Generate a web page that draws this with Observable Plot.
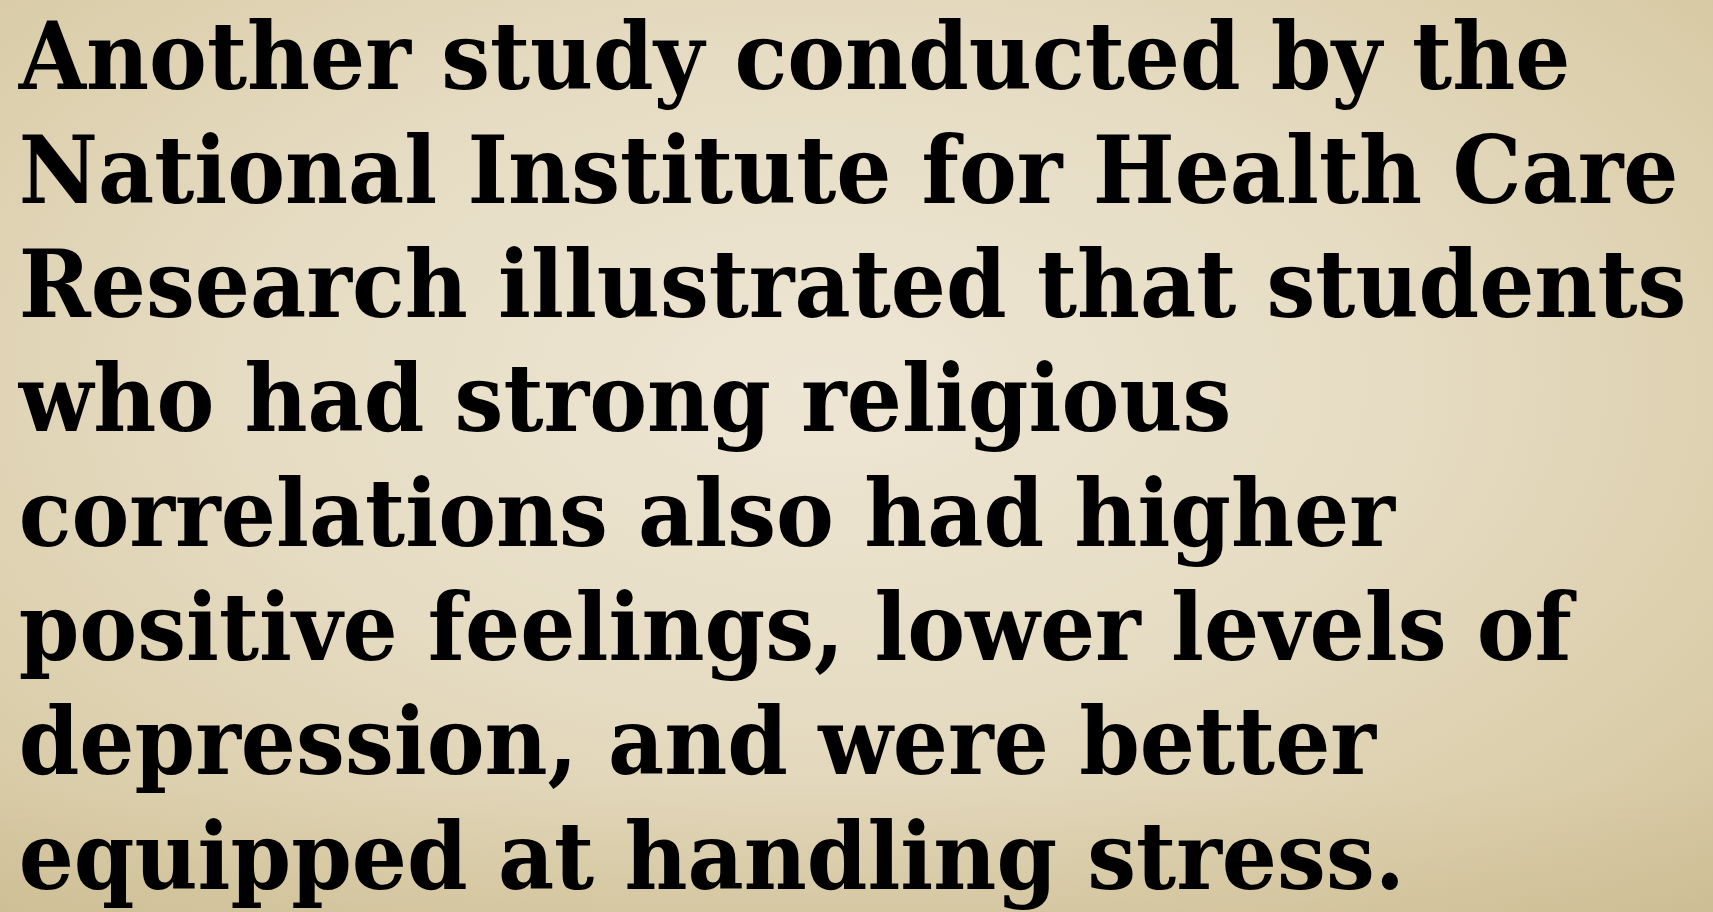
<!DOCTYPE html>
<html>
<head>
<meta charset="utf-8">
<script src="https://cdn.jsdelivr.net/npm/d3@7"></script>
<script src="https://cdn.jsdelivr.net/npm/@observablehq/plot@0.6"></script>
<style>
  html, body { margin: 0; padding: 0; width: 1713px; height: 912px; overflow: hidden; }
  body {
    background:
      linear-gradient(to top, rgba(200,184,140,0.35) 0%, rgba(200,184,140,0) 14%),
      radial-gradient(ellipse 75% 80% at 48% 42%, #eee6d4 0%, #e6dcc3 45%, #dacda9 80%, #cfc199 100%);
  }
  #chart svg { display: block; }
</style>
</head>
<body>
<div id="chart"></div>
<script>
const lines = [
  "Another study conducted by the",
  "National Institute for Health Care",
  "Research illustrated that students",
  "who had strong religious",
  "correlations also had higher",
  "positive feelings, lower levels of",
  "depression, and were better",
  "equipped at handling stress."
];

const data = lines.map((text, i) => ({text, i}));

const chart = Plot.plot({
  width: 1713,
  height: 912,
  margin: 0,
  style: {background: "transparent", overflow: "visible"},
  x: {domain: [0, 1], range: [17, 1700], axis: null},
  y: {domain: [0, lines.length - 1], range: [88, 888], axis: null},
  marks: [
    Plot.text(data, {
      x: () => 0,
      y: "i",
      text: "text",
      textAnchor: "start",
      lineAnchor: "bottom",
      fontSize: 93,
      fontWeight: "bold",
      fontFamily: "'DejaVu Serif', Georgia, serif",
      fill: "#000"
    })
  ]
});
document.getElementById("chart").appendChild(chart);

// Fit the widest line to the slide's text block width with a uniform horizontal scale
const texts = chart.querySelectorAll("text");
let maxW = 0;
texts.forEach(t => { maxW = Math.max(maxW, t.getComputedTextLength()); });
const target = 1668;
const s = target / maxW;
texts.forEach(t => {
  const tr = t.getAttribute("transform") || "";
  t.setAttribute("transform", `${tr} translate(${17 * (1 - s)},0) scale(${s},1)`);
});
</script>
</body>
</html>
